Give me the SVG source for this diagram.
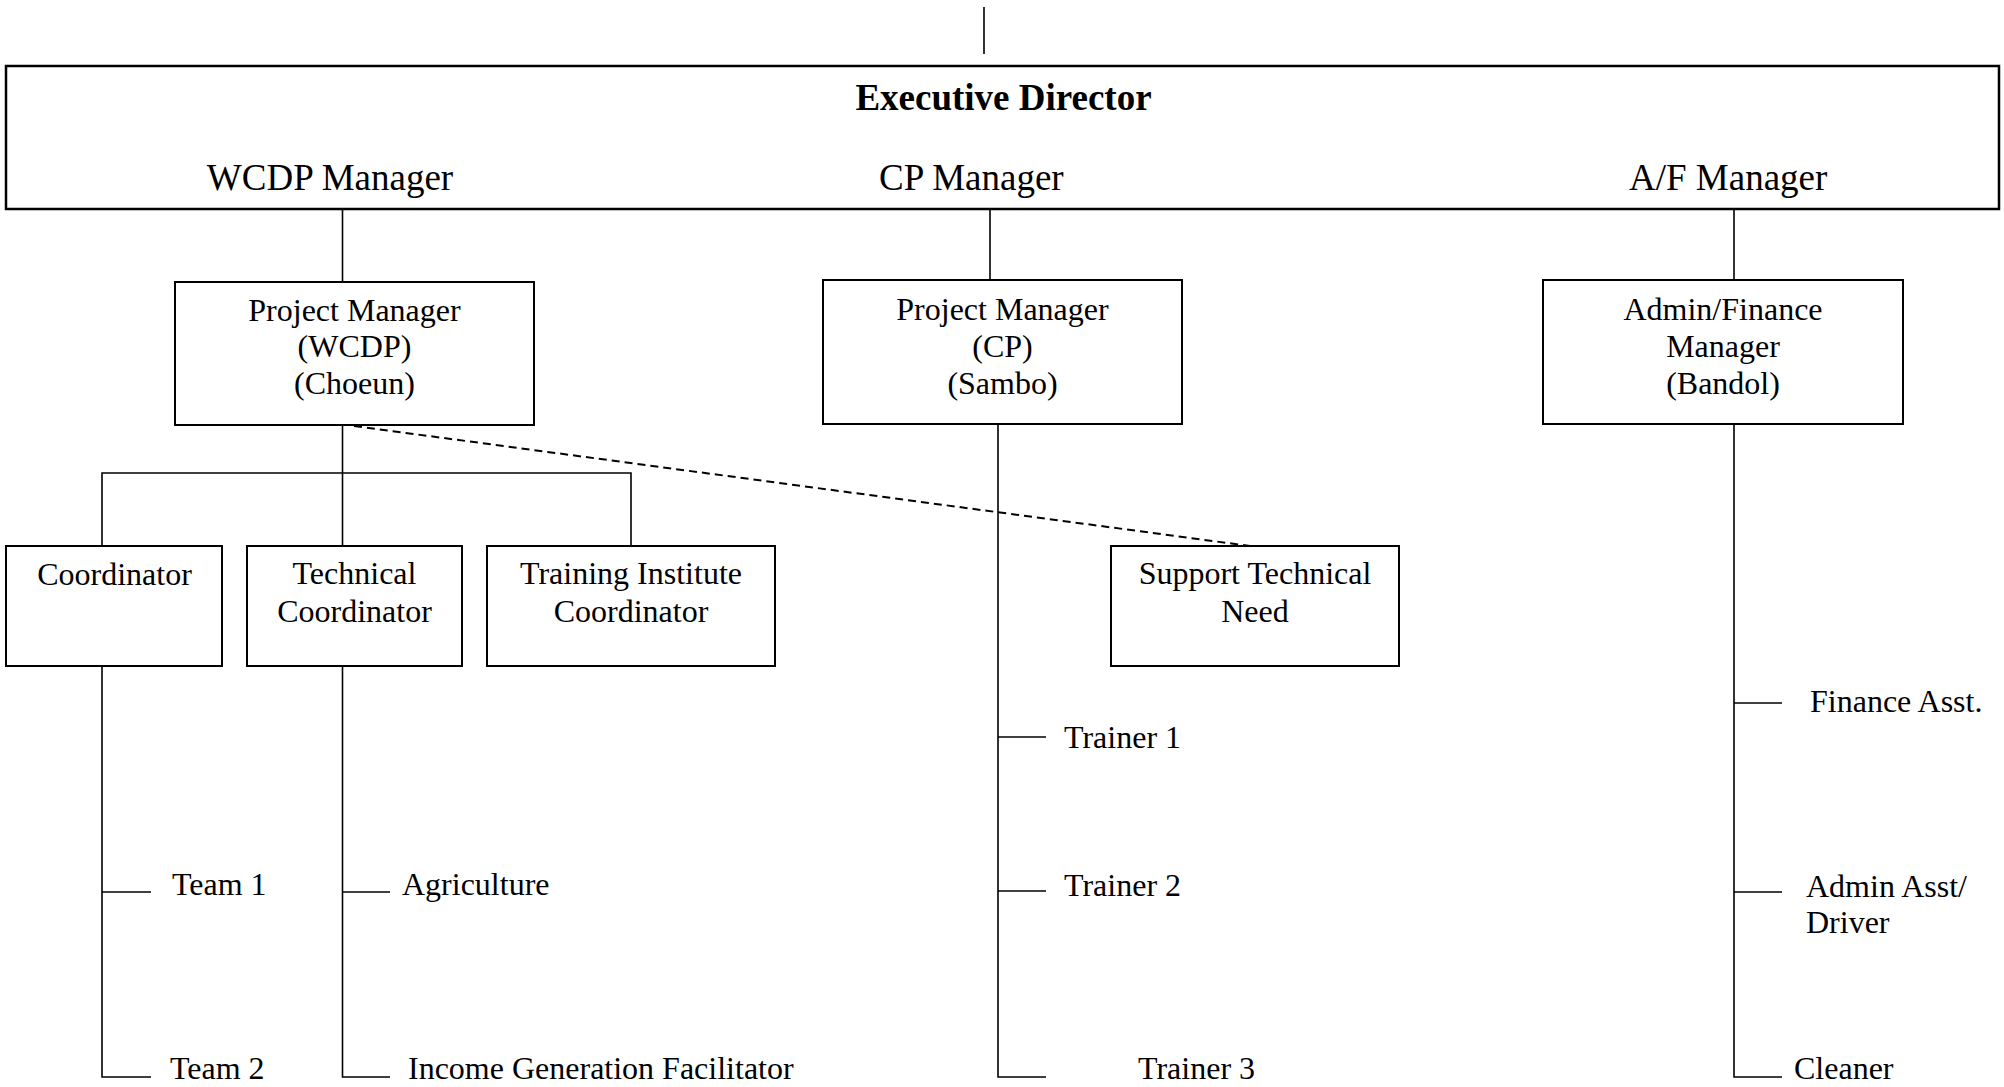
<svg xmlns="http://www.w3.org/2000/svg" width="2004" height="1087" viewBox="0 0 2004 1087">
<style>
  .box { fill: #ffffff; stroke: #000000; stroke-width: 2; }
  .big { fill: #ffffff; stroke: #000000; stroke-width: 2.5; }
  .ln { fill: none; stroke: #000000; stroke-width: 1.6; }
  .dash { fill: none; stroke: #000000; stroke-width: 2; stroke-dasharray: 8 5; }
  text { font-family: "Liberation Serif", "Times New Roman", serif; fill: #000000; }
  .t { font-size: 32px; }
  .m { font-size: 37px; }
  .c { text-anchor: middle; }
  .b { font-weight: bold; }
</style>
<rect width="2004" height="1087" fill="#ffffff"/>
<g id="connectors">
  <line class="ln" x1="984" y1="7" x2="984" y2="54"/>
  <line class="ln" x1="342.5" y1="209" x2="342.5" y2="282"/>
  <line class="ln" x1="990" y1="209" x2="990" y2="280"/>
  <line class="ln" x1="1734" y1="209" x2="1734" y2="280"/>
  <line class="ln" x1="342.5" y1="425" x2="342.5" y2="546"/>
  <polyline class="ln" points="102,546 102,473 631,473 631,546"/>
  <line class="dash" x1="354" y1="426" x2="1250" y2="546"/>
  <polyline class="ln" points="102,666 102,1077 151,1077"/>
  <line class="ln" x1="102" y1="892" x2="151" y2="892"/>
  <polyline class="ln" points="342.5,666 342.5,1077 390,1077"/>
  <line class="ln" x1="342.5" y1="892" x2="390" y2="892"/>
  <polyline class="ln" points="998,424 998,1077 1046,1077"/>
  <line class="ln" x1="998" y1="737" x2="1046" y2="737"/>
  <line class="ln" x1="998" y1="891" x2="1046" y2="891"/>
  <polyline class="ln" points="1734,424 1734,1077 1782,1077"/>
  <line class="ln" x1="1734" y1="703" x2="1782" y2="703"/>
  <line class="ln" x1="1734" y1="892" x2="1782" y2="892"/>
</g>
<g id="executive">
  <rect class="big" x="6" y="66" width="1993" height="143"/>
  <text class="m b c" x="1003.5" y="110">Executive Director</text>
  <text class="m c" x="330" y="190">WCDP Manager</text>
  <text class="m" x="879" y="190">CP Manager</text>
  <text class="m" x="1629" y="190">A/F Manager</text>
</g>
<g id="pm-wcdp">
  <rect class="box" x="175" y="282" width="359" height="143"/>
  <text class="t c" x="354.5" y="321">Project Manager</text>
  <text class="t c" x="354.5" y="357">(WCDP)</text>
  <text class="t c" x="354.5" y="394">(Choeun)</text>
</g>
<g id="pm-cp">
  <rect class="box" x="823" y="280" width="359" height="144"/>
  <text class="t c" x="1002.5" y="320">Project Manager</text>
  <text class="t c" x="1002.5" y="357">(CP)</text>
  <text class="t c" x="1002.5" y="394">(Sambo)</text>
</g>
<g id="af-manager">
  <rect class="box" x="1543" y="280" width="360" height="144"/>
  <text class="t c" x="1723" y="320">Admin/Finance</text>
  <text class="t c" x="1723" y="357">Manager</text>
  <text class="t c" x="1723" y="394">(Bandol)</text>
</g>
<g id="coordinator">
  <rect class="box" x="6" y="546" width="216" height="120"/>
  <text class="t c" x="114.5" y="585">Coordinator</text>
</g>
<g id="technical-coordinator">
  <rect class="box" x="247" y="546" width="215" height="120"/>
  <text class="t c" x="354.5" y="584">Technical</text>
  <text class="t c" x="354.5" y="622">Coordinator</text>
</g>
<g id="training-institute-coordinator">
  <rect class="box" x="487" y="546" width="288" height="120"/>
  <text class="t c" x="631" y="584">Training Institute</text>
  <text class="t c" x="631" y="622">Coordinator</text>
</g>
<g id="support-technical-need">
  <rect class="box" x="1111" y="546" width="288" height="120"/>
  <text class="t c" x="1255" y="584">Support Technical</text>
  <text class="t c" x="1255" y="622">Need</text>
</g>
<g id="team1"><text class="t" x="172" y="895">Team 1</text></g>
<g id="team2"><text class="t" x="170" y="1079">Team 2</text></g>
<g id="agriculture"><text class="t" x="402" y="895">Agriculture</text></g>
<g id="income-generation"><text class="t" x="408" y="1079">Income Generation Facilitator</text></g>
<g id="trainer1"><text class="t" x="1064" y="748">Trainer 1</text></g>
<g id="trainer2"><text class="t" x="1064" y="896">Trainer 2</text></g>
<g id="trainer3"><text class="t" x="1138" y="1079">Trainer 3</text></g>
<g id="finance-asst"><text class="t" x="1810" y="712">Finance Asst.</text></g>
<g id="admin-asst">
  <text class="t" x="1806" y="897">Admin Asst/</text>
  <text class="t" x="1806" y="933">Driver</text>
</g>
<g id="cleaner"><text class="t" x="1794" y="1079">Cleaner</text></g>
</svg>
